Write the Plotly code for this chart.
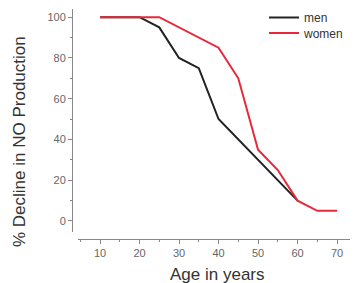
import plotly.graph_objects as go

men_age = [10, 20, 25, 30, 35, 40, 60]
men = [100, 100, 95, 80, 75, 50, 10]
women_age = [10, 25, 40, 45, 50, 55, 60, 65, 70]
women = [100, 100, 85, 70, 35, 25, 10, 5, 5]
x_ticks = [10, 20, 30, 40, 50, 60, 70]
y_ticks = [0, 20, 40, 60, 80, 100]

fig = go.Figure()
fig.add_trace(go.Scatter(x=men_age, y=men, mode="lines", name="men", legend="legend",
                         line=dict(color="#222222", width=2)))
fig.add_trace(go.Scatter(x=women_age, y=women, mode="lines", name="women", legend="legend2",
                         line=dict(color="#e8283a", width=2)))

# page offset from default body margin
O = 8
PW, PH = 358, 283
W, H = PW - O, PH - O
# plot area in page pixels
L_PAGE, T_PAGE, B_PAGE, R_PAGE = 72, 9, 239, 358
l, t = L_PAGE - O, T_PAGE - O
b = H - (B_PAGE - O)
r = W - (R_PAGE - O)
pw, ph = W - l - r, H - t - b

def px(xp):
    return (xp - L_PAGE) / pw

def py(yp):
    return (B_PAGE - yp) / ph

axis_col = "#888888"
FONT = "Liberation Sans, Arial, sans-serif"
tick_font = dict(family=FONT, size=11, color="#666666")
leg_font = dict(family=FONT, size=12, color="#333333")

fig.update_layout(
    width=W, height=H,
    margin=dict(l=l, r=r, t=t, b=b, autoexpand=False),
    paper_bgcolor="white", plot_bgcolor="white",
    showlegend=True,
    legend=dict(x=px(264), y=py(17.5), xanchor="left", yanchor="middle",
                bgcolor="rgba(0,0,0,0)", font=leg_font, itemwidth=30),
    legend2=dict(x=px(264), y=py(33), xanchor="left", yanchor="middle",
                 bgcolor="rgba(0,0,0,0)", font=leg_font, itemwidth=30),
    xaxis=dict(domain=[px(78), 1], range=[4.43, 75.3], anchor="free", position=0,
               tickvals=x_ticks, ticks="outside", ticklen=4, tickcolor=axis_col,
               showline=True, linecolor=axis_col, linewidth=1, showgrid=False,
               zeroline=False, tickfont=tick_font,
               minor=dict(dtick=5, tick0=0, ticks="outside", ticklen=2, tickcolor=axis_col)),
    yaxis=dict(domain=[py(232), 1], range=[-5.4, 104], anchor="free", position=0,
               tickvals=y_ticks, ticks="outside", ticklen=4, tickcolor=axis_col,
               showline=True, linecolor=axis_col, linewidth=1, showgrid=False,
               zeroline=False, tickfont=tick_font,
               minor=dict(dtick=10, tick0=0, ticks="outside", ticklen=2, tickcolor=axis_col)),
    annotations=[
        dict(text="% Decline in NO Production", x=px(19), y=py(142),
             xref="paper", yref="paper", showarrow=False, textangle=-90,
             xanchor="center", yanchor="middle",
             font=dict(family=FONT, size=17, color="#333333")),
        dict(text="Age in years", x=px(217), y=py(274),
             xref="paper", yref="paper", showarrow=False,
             xanchor="center", yanchor="middle",
             font=dict(family=FONT, size=17, color="#333333")),
    ],
)

fig.write_html("out.html")
